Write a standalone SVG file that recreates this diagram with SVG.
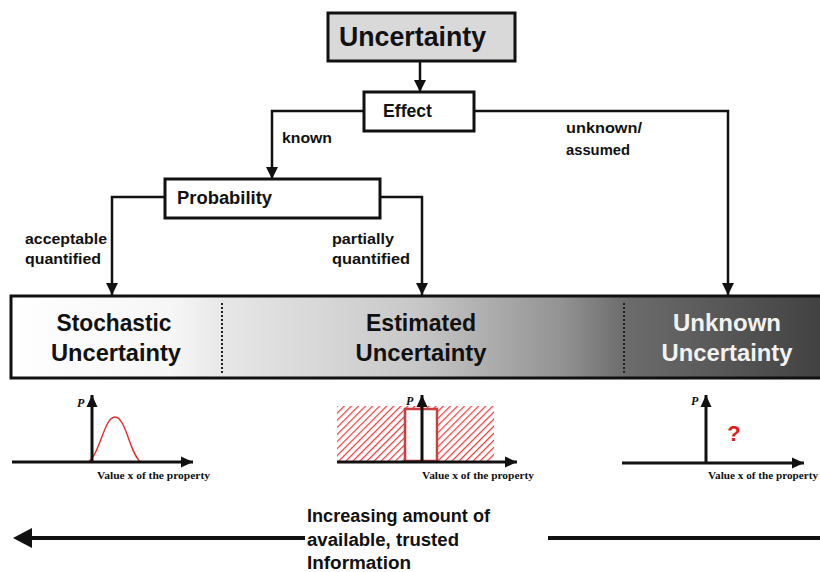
<svg xmlns="http://www.w3.org/2000/svg" width="820" height="572" viewBox="0 0 820 572">
<defs>
<style>
.t{font-family:"Liberation Sans",Arial,sans-serif;font-weight:bold;fill:#111}
.lbl{font-family:"Liberation Sans",Arial,sans-serif;font-weight:bold;font-size:15px;fill:#111}
.ax{font-family:"Liberation Serif","Times New Roman",serif;font-weight:bold;font-size:10.5px;fill:#111}
.p{font-family:"Liberation Serif","Times New Roman",serif;font-weight:bold;font-style:italic;font-size:12px;fill:#111}
.box{stroke:#111;stroke-width:3}
.con{fill:none;stroke:#111;stroke-width:2.5}
.axis{fill:none;stroke:#111;stroke-width:3}
.dot{stroke:#222;stroke-width:2;stroke-dasharray:2 2}
</style>
<marker id="ah" markerUnits="userSpaceOnUse" markerWidth="12" markerHeight="14" viewBox="0 0 12 14" refX="12" refY="7" orient="auto">
<path d="M0,1 L12,7 L0,13 Z" fill="#111"/>
</marker>
<marker id="axh" markerUnits="userSpaceOnUse" markerWidth="12" markerHeight="12" viewBox="0 0 12 12" refX="12" refY="6" orient="auto">
<path d="M0,0.5 L12,6 L0,11.5 Z" fill="#111"/>
</marker>
<linearGradient id="band" x1="10" y1="0" x2="820" y2="0" gradientUnits="userSpaceOnUse">
<stop offset="0" stop-color="#ffffff"/>
<stop offset="0.2" stop-color="#f6f6f6"/>
<stop offset="0.27" stop-color="#e6e6e6"/>
<stop offset="0.5" stop-color="#c8c8c8"/>
<stop offset="0.68" stop-color="#939393"/>
<stop offset="0.76" stop-color="#6c6c6c"/>
<stop offset="1" stop-color="#424242"/>
</linearGradient>
<pattern id="hatch" patternUnits="userSpaceOnUse" width="5" height="5" patternTransform="rotate(45)">
<rect width="5" height="5" fill="#fff"/>
<line x1="0" y1="0" x2="0" y2="5" stroke="#e83a3a" stroke-width="2.4"/>
</pattern>
</defs>
<rect width="820" height="572" fill="#fff"/>

<g id="connectors">
<line class="con" x1="420" y1="62" x2="420" y2="92" marker-end="url(#ah)"/>
<polyline class="con" points="363,111 272,111 272,179" marker-end="url(#ah)"/>
<polyline class="con" points="474,111 728,111 728,295" marker-end="url(#ah)"/>
<polyline class="con" points="164,197 112,197 112,295" marker-end="url(#ah)"/>
<polyline class="con" points="380,197 422,197 422,295" marker-end="url(#ah)"/>
<text class="lbl" x="282" y="143" textLength="50" lengthAdjust="spacingAndGlyphs">known</text>
<text class="lbl" x="566" y="133" textLength="76" lengthAdjust="spacingAndGlyphs">unknown/</text>
<text class="lbl" x="566" y="155" textLength="64" lengthAdjust="spacingAndGlyphs">assumed</text>
<text class="lbl" x="25" y="244" textLength="82" lengthAdjust="spacingAndGlyphs">acceptable</text>
<text class="lbl" x="25" y="264" textLength="76" lengthAdjust="spacingAndGlyphs">quantified</text>
<text class="lbl" x="332" y="244" textLength="62" lengthAdjust="spacingAndGlyphs">partially</text>
<text class="lbl" x="332" y="264" textLength="78" lengthAdjust="spacingAndGlyphs">quantified</text>
</g>

<g id="uncertainty">
<rect class="box" x="328" y="13" width="187" height="48" fill="#d9d9d9"/>
<text class="t" x="339" y="46" font-size="28" textLength="147" lengthAdjust="spacingAndGlyphs">Uncertainty</text>
</g>

<g id="effect">
<rect class="box" x="364" y="92" width="110" height="39" fill="#fff"/>
<text class="t" x="383" y="117" font-size="18" textLength="49" lengthAdjust="spacingAndGlyphs">Effect</text>
</g>

<g id="probability">
<rect class="box" x="165" y="179" width="215" height="39" fill="#fff"/>
<text class="t" x="177" y="204" font-size="18" textLength="95" lengthAdjust="spacingAndGlyphs">Probability</text>
</g>

<g id="band">
<rect x="11" y="296" width="820" height="82" fill="url(#band)" stroke="#111" stroke-width="3"/>
<line class="dot" x1="222" y1="303" x2="222" y2="373"/>
<line class="dot" x1="624" y1="303" x2="624" y2="373"/>
<text class="t" x="114" y="331" font-size="23" text-anchor="middle" textLength="115" lengthAdjust="spacingAndGlyphs">Stochastic</text>
<text class="t" x="116" y="361" font-size="23" text-anchor="middle" textLength="130" lengthAdjust="spacingAndGlyphs">Uncertainty</text>
<text class="t" x="421" y="331" font-size="23" text-anchor="middle" textLength="110" lengthAdjust="spacingAndGlyphs">Estimated</text>
<text class="t" x="421" y="361" font-size="23" text-anchor="middle" textLength="131" lengthAdjust="spacingAndGlyphs">Uncertainty</text>
<text class="t" x="727" y="331" font-size="23" text-anchor="middle" textLength="108" lengthAdjust="spacingAndGlyphs" style="fill:#f2f2f2">Unknown</text>
<text class="t" x="727" y="361" font-size="23" text-anchor="middle" textLength="131" lengthAdjust="spacingAndGlyphs" style="fill:#f2f2f2">Uncertainty</text>
</g>

<g id="graph-stochastic">
<path d="M88,462 C100,455 104,417 115,417 C126,417 130,455 141,462" fill="none" stroke="#e52b2b" stroke-width="1.4"/>
<line class="axis" x1="12" y1="462" x2="193" y2="462" marker-end="url(#axh)"/>
<line class="axis" x1="92" y1="463" x2="92" y2="395" marker-end="url(#axh)"/>
<text class="p" x="77" y="407">P</text>
<text class="ax" x="97" y="479" textLength="113" lengthAdjust="spacingAndGlyphs">Value x of the property</text>
</g>

<g id="graph-estimated">
<rect x="337" y="406" width="157" height="56" fill="url(#hatch)"/>
<rect x="405" y="409" width="32" height="52" fill="#fff" stroke="#c94040" stroke-width="2.5"/>
<line class="axis" x1="337" y1="462" x2="517" y2="462" marker-end="url(#axh)"/>
<line class="axis" x1="422" y1="463" x2="422" y2="395" marker-end="url(#axh)"/>
<text class="p" x="406" y="405">P</text>
<text class="ax" x="422" y="479" textLength="112" lengthAdjust="spacingAndGlyphs">Value x of the property</text>
</g>

<g id="graph-unknown">
<line class="axis" x1="622" y1="463" x2="804" y2="463" marker-end="url(#axh)"/>
<line class="axis" x1="706" y1="464" x2="706" y2="395" marker-end="url(#axh)"/>
<text class="p" x="691" y="405">P</text>
<text x="734" y="441" font-family="Liberation Sans,Arial,sans-serif" font-weight="bold" font-size="22" fill="#e01b1b" text-anchor="middle">?</text>
<text class="ax" x="708" y="479" textLength="110" lengthAdjust="spacingAndGlyphs">Value x of the property</text>
</g>

<g id="information">
<line x1="305" y1="538" x2="30" y2="538" stroke="#111" stroke-width="4"/>
<path d="M13,538 L32,528 L32,548 Z" fill="#111"/>
<line x1="548" y1="538" x2="820" y2="538" stroke="#111" stroke-width="4"/>
<text class="t" x="307" y="522" font-size="18" textLength="183" lengthAdjust="spacingAndGlyphs">Increasing amount of</text>
<text class="t" x="307" y="546" font-size="18" textLength="152" lengthAdjust="spacingAndGlyphs">available, trusted</text>
<text class="t" x="307" y="569" font-size="18" textLength="104" lengthAdjust="spacingAndGlyphs">Information</text>
</g>
</svg>
